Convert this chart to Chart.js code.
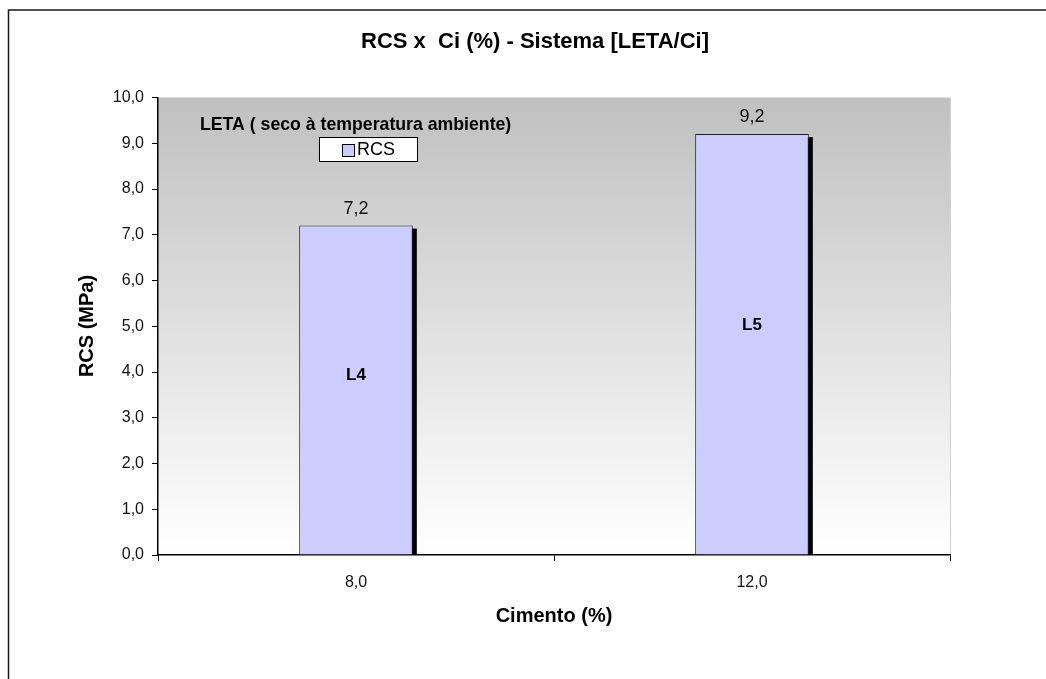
<!DOCTYPE html>
<html>
<head>
<meta charset="utf-8">
<title>RCS x Ci (%) - Sistema [LETA/Ci]</title>
<script src="https://cdn.jsdelivr.net/npm/chart.js@4/dist/chart.umd.min.js"></script>
<style>
  html, body { margin: 0; padding: 0; background: #fff; }
  canvas { display: block; }
</style>
</head>
<body>
<canvas id="rcs-chart" width="1046" height="679"></canvas>
<script>
// cement content (%) and compressive strength (MPa)
const cimento = ['8,0', '12,0'];
const rcs = [7.2, 9.2];
const lotes = ['L4', 'L5'];
const yTicks = [0, 1, 2, 3, 4, 5, 6, 7, 8, 9, 10];

const FONT = 'Arial, "Liberation Sans", sans-serif';
const comma = v => v.toFixed(1).replace('.', ',');

// gradient background, frame, titles, legend box and labels
const decor = {
    id: 'decor',
    beforeDraw(chart) {
        const { ctx, chartArea: a } = chart;
        ctx.save();
        ctx.fillStyle = '#fff';
        ctx.fillRect(0, 0, chart.width, chart.height);
        const g = ctx.createLinearGradient(0, a.top, 0, a.bottom);
        g.addColorStop(0, '#c0c0c0');
        g.addColorStop(1, '#ffffff');
        ctx.fillStyle = g;
        ctx.fillRect(a.left, a.top, a.right - a.left, a.bottom - a.top);
        ctx.strokeStyle = '#d0d0d0';
        ctx.lineWidth = 1;
        ctx.beginPath();
        ctx.moveTo(a.right + 0.5, a.top);
        ctx.lineTo(a.right + 0.5, a.bottom);
        ctx.stroke();
        // outer frame
        ctx.strokeStyle = '#1a1a1a';
        ctx.lineWidth = 1.5;
        ctx.strokeRect(8.5, 10, chart.width + 20, chart.height + 20);
        ctx.restore();
    },
    beforeDatasetDraw(chart) {
        // drop shadow behind each bar
        const { ctx } = chart;
        ctx.save();
        ctx.fillStyle = '#000';
        chart.getDatasetMeta(0).data.forEach(bar => {
            const left = bar.x - bar.width / 2;
            ctx.fillRect(left + 4, bar.y + 3, bar.width, bar.base - bar.y - 3);
        });
        ctx.restore();
    },
    afterDraw(chart) {
        const { ctx, scales: { y } } = chart;
        ctx.save();
        ctx.fillStyle = '#000';
        ctx.textAlign = 'center';
        ctx.textBaseline = 'middle';

        ctx.font = 'bold 22px ' + FONT;
        ctx.fillText('RCS x  Ci (%) - Sistema [LETA/Ci]', 535, 42);

        ctx.font = 'bold 20px ' + FONT;
        ctx.fillText('Cimento (%)', 554, 616);
        ctx.save();
        ctx.translate(87, 326);
        ctx.rotate(-Math.PI / 2);
        ctx.fillText('RCS (MPa)', 0, 0);
        ctx.restore();

        // value and batch labels on the bars
        chart.getDatasetMeta(0).data.forEach((bar, i) => {
            ctx.font = '18px ' + FONT;
            ctx.fillStyle = '#111';
            ctx.fillText(comma(rcs[i]), bar.x, bar.y - 17);
            ctx.font = 'bold 17px ' + FONT;
            ctx.fillStyle = '#000';
            ctx.fillText(lotes[i], bar.x, y.getPixelForValue(rcs[i] * 0.545));
        });

        // legend
        ctx.textAlign = 'left';
        ctx.font = 'bold 17.7px ' + FONT;
        ctx.fillText('LETA ( seco à temperatura ambiente)', 200, 125);
        ctx.fillStyle = '#fff';
        ctx.fillRect(319, 137, 98, 24);
        ctx.strokeStyle = '#000';
        ctx.lineWidth = 1;
        ctx.strokeRect(319.5, 137.5, 98, 24);
        ctx.fillStyle = '#ccccff';
        ctx.fillRect(342, 144, 12, 12);
        ctx.strokeRect(342.5, 144.5, 12, 12);
        ctx.fillStyle = '#000';
        ctx.font = '18px ' + FONT;
        ctx.fillText(chart.data.datasets[0].label, 357, 150);
        ctx.restore();
    }
};

new Chart(document.getElementById('rcs-chart').getContext('2d'), {
    type: 'bar',
    data: {
        labels: cimento,
        datasets: [{
            label: 'RCS',
            data: rcs,
            backgroundColor: '#ccccff',
            borderColor: '#222',
            borderWidth: 1,
            categoryPercentage: 1,
            barPercentage: 0.287
        }]
    },
    options: {
        responsive: false,
        devicePixelRatio: 1,
        animation: false,
        layout: { padding: { left: 0, top: 97.5, right: 96, bottom: 0 } },
        plugins: {
            legend: { display: false },
            title: { display: false },
            tooltip: { enabled: false }
        },
        scales: {
            x: {
                offset: true,
                grid: {
                    offset: true,
                    drawOnChartArea: false,
                    drawTicks: true,
                    tickLength: 6,
                    color: '#000'
                },
                border: { color: '#000', width: 1.5 },
                ticks: { color: '#111', font: { family: FONT, size: 16 }, padding: 12 },
                afterFit(scale) { scale.height = 124; }
            },
            y: {
                min: 0,
                max: 10,
                afterBuildTicks(scale) { scale.ticks = yTicks.map(v => ({ value: v })); },
                grid: {
                    drawOnChartArea: false,
                    drawTicks: true,
                    tickLength: 6,
                    color: '#000'
                },
                border: { color: '#000', width: 1.5 },
                ticks: {
                    color: '#111',
                    font: { family: FONT, size: 16 },
                    padding: 8,
                    callback: v => comma(v)
                },
                afterFit(scale) { scale.width = 158; }
            }
        }
    },
    plugins: [decor]
});
</script>
</body>
</html>
